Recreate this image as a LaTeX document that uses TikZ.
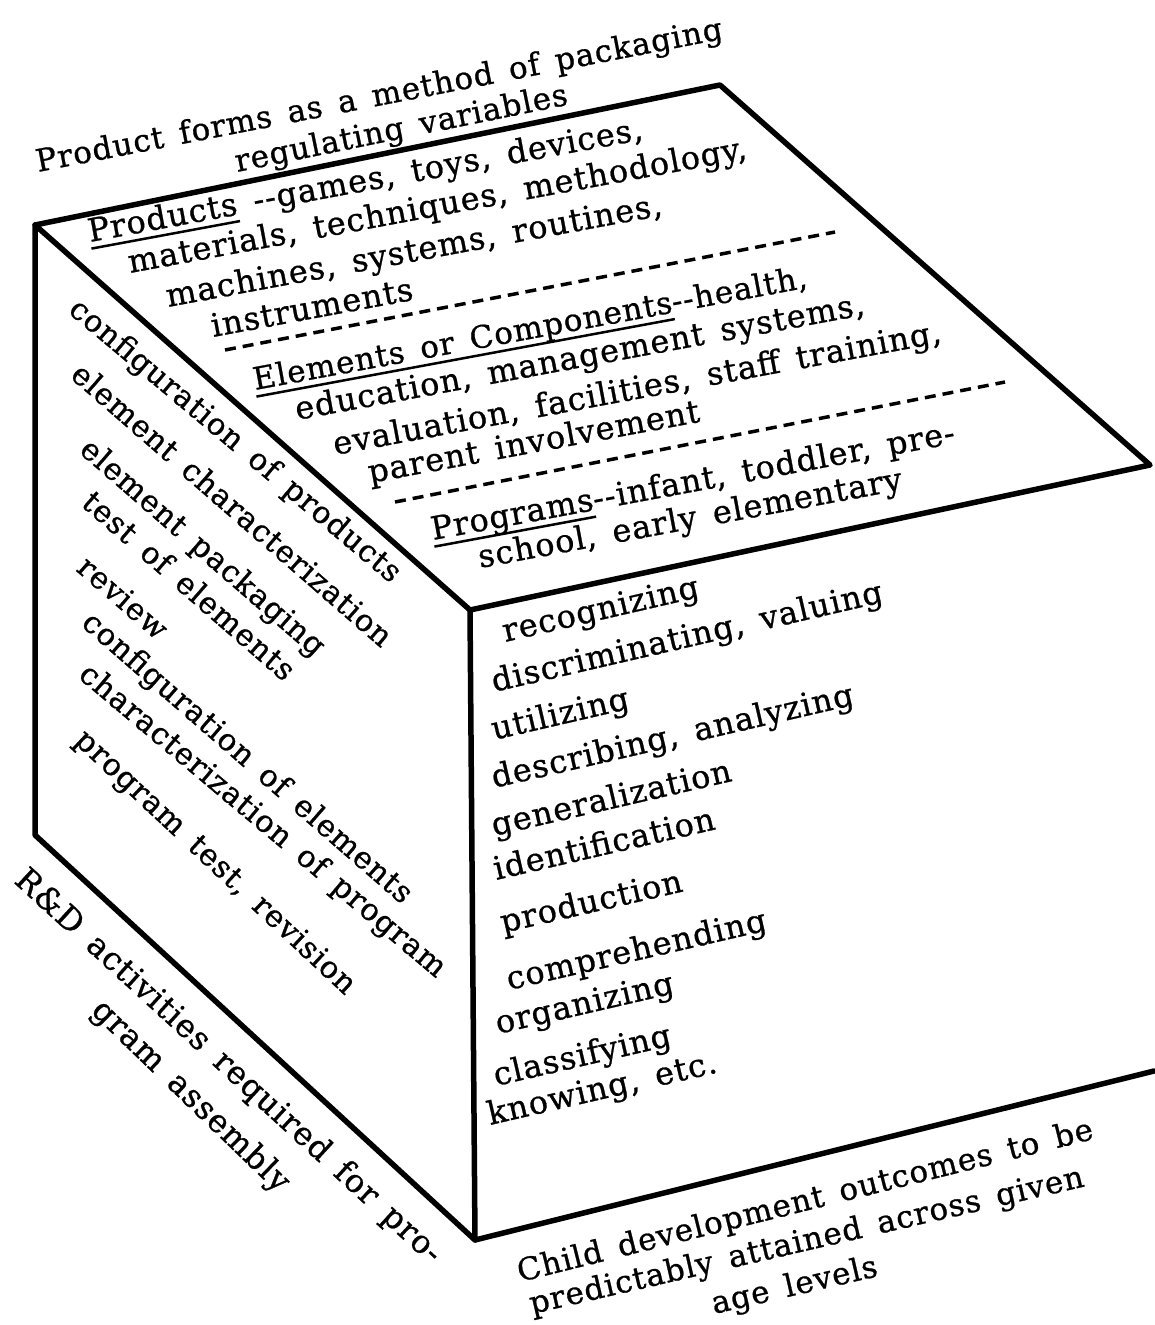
\documentclass[tikz,border=0pt]{standalone}
\usepackage{fontspec}
\setmainfont{DejaVu Serif}[LetterSpace=3, WordSpace={1.5}, FakeBold=0.8]
\newsavebox\ulbox
\newcommand\uline[1]{\sbox\ulbox{#1}\rlap{\rule[-8pt]{\wd\ulbox}{2.5pt}}\usebox\ulbox}
\begin{document}
\begin{tikzpicture}[x=1pt,y=-1pt,
    edge/.style={line width=5.5pt, line join=round, line cap=round},
    sep/.style={line width=3.5pt, dash pattern=on 11pt off 7pt},
    txt/.style={anchor=base west, inner sep=0pt, font=\fontsize{32}{32}\selectfont},
    topface/.style={txt, rotate=10.5},
    sideface/.style={txt, rotate=-41, font=\fontsize{30.5}{30.5}\selectfont},
    frontface/.style={txt, rotate=13}]
    \useasboundingbox (0,0) rectangle (1154,1325);

    % cube corners
    \coordinate (lt) at (35,225);
    \coordinate (bk) at (720,85);
    \coordinate (rt) at (1150,465);
    \coordinate (ft) at (470,610);
    \coordinate (lb) at (35,835);
    \coordinate (fb) at (475,1240);
    \coordinate (rb) at (1154,1071);

    \draw[edge] (lt) -- (bk) -- (rt) -- (ft) -- cycle;
    \draw[edge] (lt) -- (lb) -- (fb) -- (rb);
    \draw[edge] (ft) -- (fb);

    % label above the cube
    \node[topface, rotate=0.5, font=\fontsize{31}{31}\selectfont] (forms) at (38,172) {Product forms as a method of packaging};
    \node[topface, rotate=1, font=\fontsize{31}{31}\selectfont] (regvar) at (237,172) {regulating variables};

    % top face
    \node[topface] (prod1) at (90,242) {\uline{Products} -{}-games, toys, devices,};
    \node[topface] (prod2) at (130,273) {materials, techniques, methodology,};
    \node[topface] (prod3) at (168,307) {machines, systems, routines,};
    \node[topface] (prod4) at (213,337) {instruments};
    \coordinate (s1a) at (225,350);
    \coordinate (s1b) at (835,232);
    \draw[sep] (s1a) -- (s1b);
    \node[topface, font=\fontsize{31}{31}\selectfont] (elem1) at (255,390) {\uline{Elements or Components}-{}-health,};
    \node[topface] (elem2) at (297,420) {education, management systems,};
    \node[topface] (elem3) at (335,455) {evaluation, facilities, staff training,};
    \node[topface] (elem4) at (370,483) {parent involvement};
    \coordinate (s2a) at (395,502);
    \coordinate (s2b) at (1005,382);
    \draw[sep] (s2a) -- (s2b);
    \node[topface] (prog1) at (433,540) {\uline{Programs}-{}-infant, toddler, pre-};
    \node[topface] (prog2) at (480,568) {school, early elementary};

    % left face
    \node[sideface, rotate=1] (rd1) at (67,312) {configuration of products};
    \node[sideface] (rd2) at (69,377) {element characterization};
    \node[sideface] (rd3) at (78,452) {element packaging};
    \node[sideface] (rd4) at (80,505) {test of elements};
    \node[sideface] (rd5) at (75,570) {review};
    \node[sideface] (rd6) at (80,625) {configuration of elements};
    \node[sideface, rotate=1] (rd7) at (77,677) {characterization of program};
    \node[sideface, rotate=-2] (rd8) at (73,742) {program test, revision};

    \node[txt, rotate=-42.5] (rdlab1) at (13,882) {R\&D activities required for pro-};
    \node[txt, rotate=-44] (rdlab2) at (90,1012) {gram assembly};

    % front face
    \node[frontface] (out1) at (505,642) {recognizing};
    \node[frontface] (out2) at (494,692) {discriminating, valuing};
    \node[frontface] (out3) at (494,740) {utilizing};
    \node[frontface] (out4) at (494,788) {describing, analyzing};
    \node[frontface] (out5) at (494,836) {generalization};
    \node[frontface] (out6) at (496,880) {identification};
    \node[frontface] (out7) at (503,933) {production};
    \node[frontface] (out8) at (509,990) {comprehending};
    \node[frontface] (out9) at (498,1034) {organizing};
    \node[frontface] (out10) at (496,1086) {classifying};
    \node[frontface] (out11) at (490,1125) {knowing, etc.};

    \node[frontface, rotate=1, font=\fontsize{31}{31}\selectfont] (cd1) at (520,1282) {Child development outcomes to be};
    \node[frontface, font=\fontsize{31}{31}\selectfont] (cd2) at (532,1314) {predictably attained across given};
    \node[frontface, font=\fontsize{31}{31}\selectfont] (cd3) at (714,1314) {age levels};
\end{tikzpicture}
\end{document}
